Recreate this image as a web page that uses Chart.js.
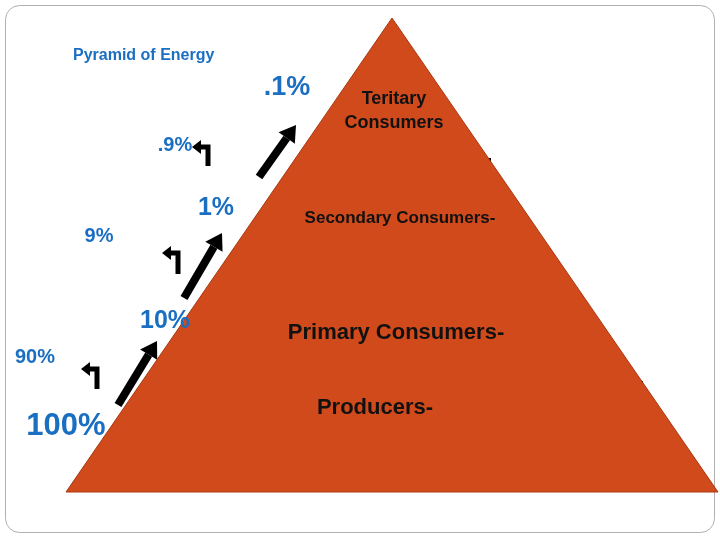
<!DOCTYPE html>
<html>
<head>
<meta charset="utf-8">
<script src="https://cdn.jsdelivr.net/npm/chart.js@4/dist/chart.umd.min.js"></script>
<style>
  html, body { margin: 0; padding: 0; background: #fff; }
  #wrap { width: 720px; height: 540px; }
</style>
</head>
<body>
<div id="wrap"><canvas id="pyr"></canvas></div>
<script>
// pyramid outline (apex, bottom right, bottom left)
var pyramidX = [392, 718, 66, 392];
var pyramidY = [18, 492, 492, 18];
// level divider lines [x1, y1, x2, y2]
var dividers = [[295, 160, 491, 160], [229, 263, 563, 269], [144, 383, 643, 383]];
// level names inside the pyramid
var levelNames = ["Teritary", "Consumers", "Secondary Consumers-", "Primary Consumers-", "Producers-"];
var levelPos = [[394, 99, 18], [394, 123, 18], [400, 218, 17], [396, 333, 22], [375, 408, 22]];
// energy passed up and energy lost at each step
var passed = ["100%", "10%", "1%", ".1%"];
var passedPos = [[66, 426, 31], [165, 321, 25], [216, 208, 25], [287, 88, 27]];
var lost = ["90%", "9%", ".9%"];
var lostPos = [[35, 357, 20], [99, 236, 20], [175, 145, 20]];
// thick arrows [x1, y1, x2, y2]
var upArrows = [[118, 405, 157, 341], [184, 298, 222, 233], [259, 177, 296, 125]];
// small hook arrows [x, yBottom, yTop]
var hooks = [[97, 389, 366], [178, 274, 250], [208, 166, 144]];

var blue = "#1a6fc2";
var datasets = [{
  data: pyramidX.map(function (x, i) { return { x: x, y: pyramidY[i] }; }),
  borderColor: "#a8380f", borderWidth: 1, backgroundColor: "#d04a1c",
  fill: "shape", pointRadius: 0, showLine: true, tension: 0
}];
dividers.forEach(function (d) {
  datasets.push({
    data: [{ x: d[0], y: d[1] }, { x: d[2], y: d[3] }],
    borderColor: "#000", borderWidth: 4, pointRadius: 0, showLine: true, fill: false
  });
});

var deco = {
  id: "deco",
  beforeDraw: function (chart) {
    var c = chart.ctx;
    c.save();
    c.strokeStyle = "#b0b0b0"; c.lineWidth = 1;
    c.beginPath(); c.roundRect(5.5, 5.5, 709, 527, 14); c.stroke();
    c.restore();
  },
  afterDraw: function (chart) {
    var c = chart.ctx, sx = chart.scales.x, sy = chart.scales.y;
    function X(v) { return sx.getPixelForValue(v); }
    function Y(v) { return sy.getPixelForValue(v); }
    c.save();
    c.textBaseline = "middle";
    c.fillStyle = blue; c.font = "bold 16px 'Liberation Sans'";
    c.textAlign = "left"; c.fillText("Pyramid of Energy", X(73), Y(56));
    c.textAlign = "center";
    c.fillStyle = "#111";
    levelNames.forEach(function (t, i) {
      c.font = "bold " + levelPos[i][2] + "px 'Liberation Sans'";
      c.fillText(t, X(levelPos[i][0]), Y(levelPos[i][1]));
    });
    c.fillStyle = blue;
    passed.forEach(function (t, i) {
      c.font = "bold " + passedPos[i][2] + "px 'Liberation Sans'";
      c.fillText(t, X(passedPos[i][0]), Y(passedPos[i][1]));
    });
    lost.forEach(function (t, i) {
      c.font = "bold " + lostPos[i][2] + "px 'Liberation Sans'";
      c.fillText(t, X(lostPos[i][0]), Y(lostPos[i][1]));
    });
    c.fillStyle = "#000"; c.strokeStyle = "#000";
    upArrows.forEach(function (a) {
      var x1 = X(a[0]), y1 = Y(a[1]), x2 = X(a[2]), y2 = Y(a[3]);
      var ang = Math.atan2(y2 - y1, x2 - x1), h = 16;
      var bx = x2 - h * Math.cos(ang), by = y2 - h * Math.sin(ang);
      c.lineWidth = 8; c.lineCap = "butt";
      c.beginPath(); c.moveTo(x1, y1); c.lineTo(bx, by); c.stroke();
      c.beginPath(); c.moveTo(x2, y2);
      c.lineTo(bx + 10 * Math.sin(ang), by - 10 * Math.cos(ang));
      c.lineTo(bx - 10 * Math.sin(ang), by + 10 * Math.cos(ang));
      c.closePath(); c.fill();
    });
    hooks.forEach(function (k) {
      var x = X(k[0]), yb = Y(k[1]), yt = Y(k[2]);
      c.lineWidth = 5;
      c.beginPath(); c.moveTo(x, yb); c.lineTo(x, yt + 3); c.lineTo(x - 8, yt + 3); c.stroke();
      c.beginPath(); c.moveTo(x - 16, yt + 3); c.lineTo(x - 7, yt - 4); c.lineTo(x - 7, yt + 10); c.closePath(); c.fill();
    });
    c.restore();
  }
};

new Chart(document.getElementById("pyr"), {
  type: "scatter",
  data: { datasets: datasets },
  options: {
    responsive: true, maintainAspectRatio: false, animation: false,
    layout: { padding: 0 },
    plugins: { legend: { display: false }, tooltip: { enabled: false } },
    scales: {
      x: { type: "linear", min: 0, max: 720, display: false },
      y: { type: "linear", min: 0, max: 540, reverse: true, display: false }
    }
  },
  plugins: [deco]
});
</script>
</body>
</html>
